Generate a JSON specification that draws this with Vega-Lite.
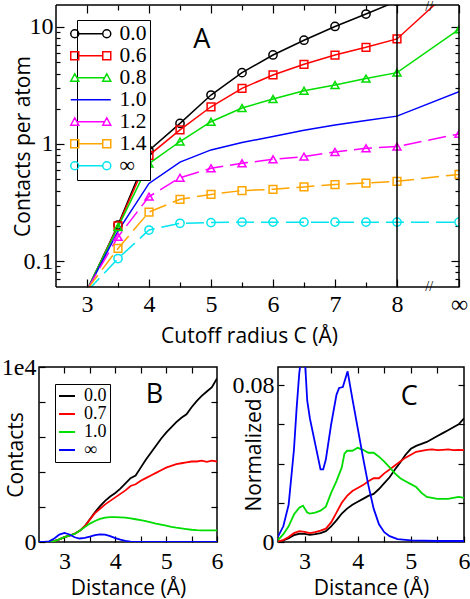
{
  "$schema": "https://vega.github.io/schema/vega-lite/v6.json",
  "background": "white",
  "padding": {"left": 0, "top": 0, "right": 2, "bottom": 0},
  "config": {
    "view": {"stroke": "black", "strokeWidth": 1.5},
    "axis": {"domain": false, "grid": false, "tickColor": "black", "tickWidth": 1.2, "labelFont": "Liberation Serif, serif", "labelFontSize": 24, "labelColor": "black", "titleFont": "Open Sans", "titleFontSize": 21, "titleFontWeight": "normal", "titleColor": "black", "labelFlush": false, "labelOverlap": false},
    "legend": {"labelColor": "black"}
  },
  "datasets": {
    "a": [
      {"s": "0.0", "x": 3, "y": 0.056}, {"s": "0.0", "x": 3.5, "y": 0.203}, {"s": "0.0", "x": 4, "y": 0.88}, {"s": "0.0", "x": 4.5, "y": 1.5}, {"s": "0.0", "x": 5, "y": 2.62}, {"s": "0.0", "x": 5.5, "y": 4.07}, {"s": "0.0", "x": 6, "y": 5.76}, {"s": "0.0", "x": 6.5, "y": 7.7}, {"s": "0.0", "x": 7, "y": 10.1}, {"s": "0.0", "x": 7.5, "y": 12.9}, {"s": "0.0", "x": 8, "y": 16.6}, {"s": "0.0", "x": 9, "y": 40},
      {"s": "0.6", "x": 3, "y": 0.056}, {"s": "0.6", "x": 3.5, "y": 0.2}, {"s": "0.6", "x": 4, "y": 0.8}, {"s": "0.6", "x": 4.5, "y": 1.32}, {"s": "0.6", "x": 5, "y": 2.08}, {"s": "0.6", "x": 5.5, "y": 2.99}, {"s": "0.6", "x": 6, "y": 3.89}, {"s": "0.6", "x": 6.5, "y": 4.8}, {"s": "0.6", "x": 7, "y": 5.75}, {"s": "0.6", "x": 7.5, "y": 6.7}, {"s": "0.6", "x": 8, "y": 7.9}, {"s": "0.6", "x": 9, "y": 24},
      {"s": "0.8", "x": 3, "y": 0.057}, {"s": "0.8", "x": 3.5, "y": 0.195}, {"s": "0.8", "x": 4, "y": 0.68}, {"s": "0.8", "x": 4.5, "y": 1.05}, {"s": "0.8", "x": 5, "y": 1.55}, {"s": "0.8", "x": 5.5, "y": 2.03}, {"s": "0.8", "x": 6, "y": 2.42}, {"s": "0.8", "x": 6.5, "y": 2.85}, {"s": "0.8", "x": 7, "y": 3.19}, {"s": "0.8", "x": 7.5, "y": 3.62}, {"s": "0.8", "x": 8, "y": 4.07}, {"s": "0.8", "x": 9, "y": 9.55},
      {"s": "1.0", "x": 3, "y": 0.056}, {"s": "1.0", "x": 3.5, "y": 0.18}, {"s": "1.0", "x": 4, "y": 0.46}, {"s": "1.0", "x": 4.5, "y": 0.7}, {"s": "1.0", "x": 5, "y": 0.89}, {"s": "1.0", "x": 5.5, "y": 1.03}, {"s": "1.0", "x": 6, "y": 1.16}, {"s": "1.0", "x": 6.5, "y": 1.31}, {"s": "1.0", "x": 7, "y": 1.45}, {"s": "1.0", "x": 7.5, "y": 1.59}, {"s": "1.0", "x": 8, "y": 1.73}, {"s": "1.0", "x": 9, "y": 2.8},
      {"s": "1.2", "x": 3, "y": 0.057}, {"s": "1.2", "x": 3.5, "y": 0.161}, {"s": "1.2", "x": 4, "y": 0.355}, {"s": "1.2", "x": 4.5, "y": 0.515}, {"s": "1.2", "x": 5, "y": 0.62}, {"s": "1.2", "x": 5.5, "y": 0.684}, {"s": "1.2", "x": 6, "y": 0.74}, {"s": "1.2", "x": 6.5, "y": 0.78}, {"s": "1.2", "x": 7, "y": 0.855}, {"s": "1.2", "x": 7.5, "y": 0.92}, {"s": "1.2", "x": 8, "y": 0.95}, {"s": "1.2", "x": 9, "y": 1.22},
      {"s": "1.4", "x": 3, "y": 0.057}, {"s": "1.4", "x": 3.5, "y": 0.128}, {"s": "1.4", "x": 4, "y": 0.262}, {"s": "1.4", "x": 4.5, "y": 0.337}, {"s": "1.4", "x": 5, "y": 0.371}, {"s": "1.4", "x": 5.5, "y": 0.4}, {"s": "1.4", "x": 6, "y": 0.41}, {"s": "1.4", "x": 6.5, "y": 0.43}, {"s": "1.4", "x": 7, "y": 0.45}, {"s": "1.4", "x": 7.5, "y": 0.464}, {"s": "1.4", "x": 8, "y": 0.48}, {"s": "1.4", "x": 9, "y": 0.55},
      {"s": "∞", "x": 3, "y": 0.055}, {"s": "∞", "x": 3.5, "y": 0.105}, {"s": "∞", "x": 4, "y": 0.184}, {"s": "∞", "x": 4.5, "y": 0.21}, {"s": "∞", "x": 5, "y": 0.213}, {"s": "∞", "x": 5.5, "y": 0.215}, {"s": "∞", "x": 6, "y": 0.215}, {"s": "∞", "x": 6.5, "y": 0.215}, {"s": "∞", "x": 7, "y": 0.215}, {"s": "∞", "x": 7.5, "y": 0.215}, {"s": "∞", "x": 8, "y": 0.215}, {"s": "∞", "x": 9, "y": 0.215}
    ],
    "b": [
      {"s": "0.0", "d": 2.5, "v": 0}, {"s": "0.0", "d": 2.6, "v": 0}, {"s": "0.0", "d": 2.7, "v": 10}, {"s": "0.0", "d": 2.8, "v": 50}, {"s": "0.0", "d": 2.9, "v": 150}, {"s": "0.0", "d": 3.0, "v": 280}, {"s": "0.0", "d": 3.1, "v": 360}, {"s": "0.0", "d": 3.2, "v": 470}, {"s": "0.0", "d": 3.3, "v": 640}, {"s": "0.0", "d": 3.4, "v": 900}, {"s": "0.0", "d": 3.5, "v": 1300}, {"s": "0.0", "d": 3.6, "v": 1700}, {"s": "0.0", "d": 3.7, "v": 2050}, {"s": "0.0", "d": 3.8, "v": 2350}, {"s": "0.0", "d": 3.9, "v": 2600}, {"s": "0.0", "d": 4.0, "v": 2800}, {"s": "0.0", "d": 4.1, "v": 3050}, {"s": "0.0", "d": 4.2, "v": 3350}, {"s": "0.0", "d": 4.3, "v": 3650}, {"s": "0.0", "d": 4.4, "v": 3800}, {"s": "0.0", "d": 4.5, "v": 4250}, {"s": "0.0", "d": 4.6, "v": 4700}, {"s": "0.0", "d": 4.7, "v": 5100}, {"s": "0.0", "d": 4.8, "v": 5500}, {"s": "0.0", "d": 4.9, "v": 5900}, {"s": "0.0", "d": 5.0, "v": 6250}, {"s": "0.0", "d": 5.1, "v": 6550}, {"s": "0.0", "d": 5.2, "v": 6850}, {"s": "0.0", "d": 5.3, "v": 7100}, {"s": "0.0", "d": 5.4, "v": 7300}, {"s": "0.0", "d": 5.5, "v": 7700}, {"s": "0.0", "d": 5.6, "v": 8050}, {"s": "0.0", "d": 5.7, "v": 8350}, {"s": "0.0", "d": 5.8, "v": 8600}, {"s": "0.0", "d": 5.9, "v": 8850}, {"s": "0.0", "d": 6.0, "v": 9350},
      {"s": "0.7", "d": 2.5, "v": 0}, {"s": "0.7", "d": 2.6, "v": 0}, {"s": "0.7", "d": 2.7, "v": 10}, {"s": "0.7", "d": 2.8, "v": 50}, {"s": "0.7", "d": 2.9, "v": 150}, {"s": "0.7", "d": 3.0, "v": 280}, {"s": "0.7", "d": 3.1, "v": 360}, {"s": "0.7", "d": 3.2, "v": 470}, {"s": "0.7", "d": 3.3, "v": 640}, {"s": "0.7", "d": 3.4, "v": 900}, {"s": "0.7", "d": 3.5, "v": 1280}, {"s": "0.7", "d": 3.6, "v": 1650}, {"s": "0.7", "d": 3.7, "v": 1900}, {"s": "0.7", "d": 3.8, "v": 2150}, {"s": "0.7", "d": 3.9, "v": 2350}, {"s": "0.7", "d": 4.0, "v": 2550}, {"s": "0.7", "d": 4.1, "v": 2750}, {"s": "0.7", "d": 4.2, "v": 2950}, {"s": "0.7", "d": 4.3, "v": 3200}, {"s": "0.7", "d": 4.4, "v": 3300}, {"s": "0.7", "d": 4.5, "v": 3500}, {"s": "0.7", "d": 4.6, "v": 3650}, {"s": "0.7", "d": 4.7, "v": 3800}, {"s": "0.7", "d": 4.8, "v": 3950}, {"s": "0.7", "d": 4.9, "v": 4100}, {"s": "0.7", "d": 5.0, "v": 4250}, {"s": "0.7", "d": 5.1, "v": 4350}, {"s": "0.7", "d": 5.2, "v": 4450}, {"s": "0.7", "d": 5.3, "v": 4500}, {"s": "0.7", "d": 5.4, "v": 4550}, {"s": "0.7", "d": 5.5, "v": 4600}, {"s": "0.7", "d": 5.6, "v": 4600}, {"s": "0.7", "d": 5.7, "v": 4650}, {"s": "0.7", "d": 5.8, "v": 4580}, {"s": "0.7", "d": 5.9, "v": 4650}, {"s": "0.7", "d": 6.0, "v": 4600},
      {"s": "1.0", "d": 2.5, "v": 0}, {"s": "1.0", "d": 2.6, "v": 0}, {"s": "1.0", "d": 2.7, "v": 10}, {"s": "1.0", "d": 2.8, "v": 50}, {"s": "1.0", "d": 2.9, "v": 150}, {"s": "1.0", "d": 3.0, "v": 280}, {"s": "1.0", "d": 3.1, "v": 360}, {"s": "1.0", "d": 3.2, "v": 460}, {"s": "1.0", "d": 3.3, "v": 640}, {"s": "1.0", "d": 3.4, "v": 850}, {"s": "1.0", "d": 3.5, "v": 1050}, {"s": "1.0", "d": 3.6, "v": 1200}, {"s": "1.0", "d": 3.7, "v": 1320}, {"s": "1.0", "d": 3.8, "v": 1390}, {"s": "1.0", "d": 3.9, "v": 1420}, {"s": "1.0", "d": 4.0, "v": 1420}, {"s": "1.0", "d": 4.1, "v": 1410}, {"s": "1.0", "d": 4.2, "v": 1390}, {"s": "1.0", "d": 4.3, "v": 1350}, {"s": "1.0", "d": 4.4, "v": 1300}, {"s": "1.0", "d": 4.5, "v": 1250}, {"s": "1.0", "d": 4.6, "v": 1190}, {"s": "1.0", "d": 4.7, "v": 1120}, {"s": "1.0", "d": 4.8, "v": 1050}, {"s": "1.0", "d": 4.9, "v": 990}, {"s": "1.0", "d": 5.0, "v": 930}, {"s": "1.0", "d": 5.1, "v": 870}, {"s": "1.0", "d": 5.2, "v": 820}, {"s": "1.0", "d": 5.3, "v": 780}, {"s": "1.0", "d": 5.4, "v": 740}, {"s": "1.0", "d": 5.5, "v": 700}, {"s": "1.0", "d": 5.6, "v": 680}, {"s": "1.0", "d": 5.7, "v": 670}, {"s": "1.0", "d": 5.8, "v": 660}, {"s": "1.0", "d": 5.9, "v": 660}, {"s": "1.0", "d": 6.0, "v": 670},
      {"s": "∞", "d": 2.5, "v": 0}, {"s": "∞", "d": 2.6, "v": 5}, {"s": "∞", "d": 2.7, "v": 40}, {"s": "∞", "d": 2.8, "v": 200}, {"s": "∞", "d": 2.9, "v": 420}, {"s": "∞", "d": 3.0, "v": 520}, {"s": "∞", "d": 3.1, "v": 430}, {"s": "∞", "d": 3.2, "v": 270}, {"s": "∞", "d": 3.3, "v": 200}, {"s": "∞", "d": 3.4, "v": 240}, {"s": "∞", "d": 3.5, "v": 310}, {"s": "∞", "d": 3.6, "v": 390}, {"s": "∞", "d": 3.7, "v": 430}, {"s": "∞", "d": 3.8, "v": 420}, {"s": "∞", "d": 3.9, "v": 330}, {"s": "∞", "d": 4.0, "v": 220}, {"s": "∞", "d": 4.1, "v": 130}, {"s": "∞", "d": 4.2, "v": 60}, {"s": "∞", "d": 4.3, "v": 20}, {"s": "∞", "d": 4.4, "v": 5}, {"s": "∞", "d": 4.5, "v": 0}, {"s": "∞", "d": 5.0, "v": 0}, {"s": "∞", "d": 6.0, "v": 0}
    ],
    "c": [
      {"s": "0.0", "d": 2.5, "v": 0.0002}, {"s": "0.0", "d": 2.6, "v": 0.0008}, {"s": "0.0", "d": 2.7, "v": 0.002}, {"s": "0.0", "d": 2.8, "v": 0.0035}, {"s": "0.0", "d": 2.9, "v": 0.0042}, {"s": "0.0", "d": 3.0, "v": 0.0041}, {"s": "0.0", "d": 3.1, "v": 0.0036}, {"s": "0.0", "d": 3.2, "v": 0.004}, {"s": "0.0", "d": 3.3, "v": 0.0045}, {"s": "0.0", "d": 3.4, "v": 0.0055}, {"s": "0.0", "d": 3.5, "v": 0.008}, {"s": "0.0", "d": 3.6, "v": 0.011}, {"s": "0.0", "d": 3.7, "v": 0.0145}, {"s": "0.0", "d": 3.8, "v": 0.017}, {"s": "0.0", "d": 3.9, "v": 0.019}, {"s": "0.0", "d": 4.0, "v": 0.0205}, {"s": "0.0", "d": 4.1, "v": 0.022}, {"s": "0.0", "d": 4.2, "v": 0.0235}, {"s": "0.0", "d": 4.3, "v": 0.0245}, {"s": "0.0", "d": 4.4, "v": 0.027}, {"s": "0.0", "d": 4.5, "v": 0.03}, {"s": "0.0", "d": 4.6, "v": 0.033}, {"s": "0.0", "d": 4.7, "v": 0.037}, {"s": "0.0", "d": 4.8, "v": 0.0405}, {"s": "0.0", "d": 4.9, "v": 0.0445}, {"s": "0.0", "d": 5.0, "v": 0.0475}, {"s": "0.0", "d": 5.1, "v": 0.049}, {"s": "0.0", "d": 5.2, "v": 0.05}, {"s": "0.0", "d": 5.3, "v": 0.051}, {"s": "0.0", "d": 5.4, "v": 0.0525}, {"s": "0.0", "d": 5.5, "v": 0.054}, {"s": "0.0", "d": 5.6, "v": 0.0555}, {"s": "0.0", "d": 5.7, "v": 0.057}, {"s": "0.0", "d": 5.8, "v": 0.0585}, {"s": "0.0", "d": 5.9, "v": 0.06}, {"s": "0.0", "d": 6.0, "v": 0.063},
      {"s": "0.7", "d": 2.5, "v": 0.0003}, {"s": "0.7", "d": 2.6, "v": 0.001}, {"s": "0.7", "d": 2.7, "v": 0.0025}, {"s": "0.7", "d": 2.8, "v": 0.0045}, {"s": "0.7", "d": 2.9, "v": 0.0055}, {"s": "0.7", "d": 3.0, "v": 0.0052}, {"s": "0.7", "d": 3.1, "v": 0.0045}, {"s": "0.7", "d": 3.2, "v": 0.005}, {"s": "0.7", "d": 3.3, "v": 0.0058}, {"s": "0.7", "d": 3.4, "v": 0.0068}, {"s": "0.7", "d": 3.5, "v": 0.01}, {"s": "0.7", "d": 3.6, "v": 0.015}, {"s": "0.7", "d": 3.7, "v": 0.02}, {"s": "0.7", "d": 3.8, "v": 0.0235}, {"s": "0.7", "d": 3.9, "v": 0.026}, {"s": "0.7", "d": 4.0, "v": 0.0275}, {"s": "0.7", "d": 4.1, "v": 0.029}, {"s": "0.7", "d": 4.2, "v": 0.031}, {"s": "0.7", "d": 4.3, "v": 0.0325}, {"s": "0.7", "d": 4.4, "v": 0.0325}, {"s": "0.7", "d": 4.5, "v": 0.035}, {"s": "0.7", "d": 4.6, "v": 0.037}, {"s": "0.7", "d": 4.7, "v": 0.039}, {"s": "0.7", "d": 4.8, "v": 0.041}, {"s": "0.7", "d": 4.9, "v": 0.043}, {"s": "0.7", "d": 5.0, "v": 0.0445}, {"s": "0.7", "d": 5.1, "v": 0.046}, {"s": "0.7", "d": 5.2, "v": 0.0465}, {"s": "0.7", "d": 5.3, "v": 0.047}, {"s": "0.7", "d": 5.4, "v": 0.0472}, {"s": "0.7", "d": 5.5, "v": 0.0468}, {"s": "0.7", "d": 5.6, "v": 0.047}, {"s": "0.7", "d": 5.7, "v": 0.0472}, {"s": "0.7", "d": 5.8, "v": 0.0468}, {"s": "0.7", "d": 5.9, "v": 0.047}, {"s": "0.7", "d": 6.0, "v": 0.0468},
      {"s": "1.0", "d": 2.5, "v": 0.001}, {"s": "1.0", "d": 2.6, "v": 0.004}, {"s": "1.0", "d": 2.7, "v": 0.008}, {"s": "1.0", "d": 2.8, "v": 0.014}, {"s": "1.0", "d": 2.9, "v": 0.0175}, {"s": "1.0", "d": 2.97, "v": 0.0185}, {"s": "1.0", "d": 3.05, "v": 0.015}, {"s": "1.0", "d": 3.1, "v": 0.0145}, {"s": "1.0", "d": 3.2, "v": 0.015}, {"s": "1.0", "d": 3.3, "v": 0.016}, {"s": "1.0", "d": 3.4, "v": 0.018}, {"s": "1.0", "d": 3.5, "v": 0.025}, {"s": "1.0", "d": 3.6, "v": 0.031}, {"s": "1.0", "d": 3.7, "v": 0.038}, {"s": "1.0", "d": 3.75, "v": 0.045}, {"s": "1.0", "d": 3.8, "v": 0.0465}, {"s": "1.0", "d": 3.9, "v": 0.0465}, {"s": "1.0", "d": 4.0, "v": 0.048}, {"s": "1.0", "d": 4.1, "v": 0.047}, {"s": "1.0", "d": 4.2, "v": 0.0455}, {"s": "1.0", "d": 4.3, "v": 0.0455}, {"s": "1.0", "d": 4.4, "v": 0.0435}, {"s": "1.0", "d": 4.5, "v": 0.041}, {"s": "1.0", "d": 4.6, "v": 0.038}, {"s": "1.0", "d": 4.7, "v": 0.035}, {"s": "1.0", "d": 4.8, "v": 0.0325}, {"s": "1.0", "d": 4.9, "v": 0.031}, {"s": "1.0", "d": 5.0, "v": 0.0295}, {"s": "1.0", "d": 5.1, "v": 0.028}, {"s": "1.0", "d": 5.2, "v": 0.025}, {"s": "1.0", "d": 5.3, "v": 0.023}, {"s": "1.0", "d": 5.4, "v": 0.0225}, {"s": "1.0", "d": 5.5, "v": 0.022}, {"s": "1.0", "d": 5.6, "v": 0.022}, {"s": "1.0", "d": 5.7, "v": 0.022}, {"s": "1.0", "d": 5.8, "v": 0.0225}, {"s": "1.0", "d": 5.9, "v": 0.023}, {"s": "1.0", "d": 6.0, "v": 0.0225},
      {"s": "∞", "d": 2.5, "v": 0.0027}, {"s": "∞", "d": 2.6, "v": 0.008}, {"s": "∞", "d": 2.7, "v": 0.019}, {"s": "∞", "d": 2.8, "v": 0.047}, {"s": "∞", "d": 2.85, "v": 0.068}, {"s": "∞", "d": 2.9, "v": 0.086}, {"s": "∞", "d": 2.95, "v": 0.097}, {"s": "∞", "d": 3.0, "v": 0.096}, {"s": "∞", "d": 3.05, "v": 0.072}, {"s": "∞", "d": 3.1, "v": 0.063}, {"s": "∞", "d": 3.2, "v": 0.05}, {"s": "∞", "d": 3.3, "v": 0.037}, {"s": "∞", "d": 3.35, "v": 0.037}, {"s": "∞", "d": 3.4, "v": 0.042}, {"s": "∞", "d": 3.5, "v": 0.06}, {"s": "∞", "d": 3.6, "v": 0.075}, {"s": "∞", "d": 3.65, "v": 0.0785}, {"s": "∞", "d": 3.72, "v": 0.079}, {"s": "∞", "d": 3.81, "v": 0.087}, {"s": "∞", "d": 3.9, "v": 0.073}, {"s": "∞", "d": 4.0, "v": 0.058}, {"s": "∞", "d": 4.1, "v": 0.043}, {"s": "∞", "d": 4.2, "v": 0.029}, {"s": "∞", "d": 4.3, "v": 0.017}, {"s": "∞", "d": 4.4, "v": 0.009}, {"s": "∞", "d": 4.5, "v": 0.005}, {"s": "∞", "d": 4.6, "v": 0.003}, {"s": "∞", "d": 4.75, "v": 0.0015}, {"s": "∞", "d": 5.0, "v": 0.0008}, {"s": "∞", "d": 5.5, "v": 0.0005}, {"s": "∞", "d": 6.0, "v": 0.0005}
    ]
  },
  "columns": 1,
  "align": "none",
  "spacing": 8,
  "resolve": {"scale": {"color": "independent"}, "legend": {"color": "independent"}},
  "concat": [
    {
      "width": 420,
      "height": 282,
      "view": {"stroke": null},
      "resolve": {"axis": {"x": "independent", "y": "independent"}},
      "layer": [
        {
          "data": {"name": "a"},
          "transform": [{"filter": "indexof(['0.0','0.6','0.8','1.0'], datum.s) >= 0"}],
          "mark": {"type": "line", "clip": true, "strokeWidth": 1.5},
          "encoding": {
            "x": {"field": "x", "type": "quantitative", "scale": {"domain": [2.2258, 9], "nice": false, "zero": false},
              "axis": {"orient": "bottom", "values": [3, 3.5, 4, 4.5, 5, 5.5, 6, 6.5, 7, 7.5, 8, 9], "labelExpr": "datum.value == 9 ? '∞' : (datum.value % 1 == 0 ? format(datum.value, 'd') : '')", "tickSize": {"condition": {"test": "datum.value % 1 == 0", "value": -8}, "value": -5}, "labelPadding": 13, "title": "Cutoff radius C (Å)", "titlePadding": 6}},
            "y": {"field": "y", "type": "quantitative", "scale": {"type": "log", "domain": [0.06, 15.4], "nice": false},
              "axis": {"orient": "left", "offset": -17, "values": [0.07, 0.08, 0.09, 0.1, 0.2, 0.3, 0.4, 0.5, 0.6, 0.7, 0.8, 0.9, 1, 2, 3, 4, 5, 6, 7, 8, 9, 10], "labelExpr": "datum.value == 0.1 ? '0.1' : datum.value == 1 ? '1' : datum.value == 10 ? '10' : ''", "tickSize": {"condition": {"test": "datum.value == 0.1 || datum.value == 1 || datum.value == 10", "value": -8}, "value": -4}, "labelPadding": 11, "title": "Contacts per atom", "titlePadding": -10}},
            "color": {"field": "s", "type": "nominal",
              "scale": {"domain": ["0.0", "0.6", "0.8", "1.0", "1.2", "1.4", "∞"], "range": ["black", "#ff0000", "#00dd00", "#0000ff", "#ff00ff", "#ffa500", "#00e5ee"]},
              "legend": {"title": null, "orient": "none", "legendX": 38, "legendY": 15, "strokeColor": "black", "fillColor": "white", "padding": 3, "labelFont": "Liberation Serif, serif", "labelFontSize": 21.5, "labelColor": "black", "symbolType": "stroke", "symbolSize": 100, "symbolStrokeWidth": 1.5, "labelOffset": 18, "rowPadding": -8,
                "encode": {"symbols": {"update": {"shape": {"signal": "datum.value == '0.0' || datum.value == '∞' ? 'M-2.4,0H2.4M-2.4,0A0.8,0.8,0,1,1,-4,0A0.8,0.8,0,1,1,-2.4,0M4,0A0.8,0.8,0,1,1,2.4,0A0.8,0.8,0,1,1,4,0' : (datum.value == '0.6' || datum.value == '1.4' ? 'M-2.4,0H2.4M-4,-0.8H-2.4V0.8H-4ZM2.4,-0.8H4V0.8H2.4Z' : (datum.value == '1.0' ? 'M-4,0H4' : 'M-2.78,0H2.78M-4,0.7L-3.2,-0.8L-2.4,0.7ZM2.4,0.7L3.2,-0.8L4,0.7Z'))"}, "fill": {"value": "transparent"}}}}}}
          }
        },
        {
          "data": {"name": "a"},
          "transform": [{"filter": "indexof(['1.2','1.4','∞'], datum.s) >= 0"}],
          "mark": {"type": "line", "clip": true, "strokeWidth": 1.5, "strokeDash": [18, 7]},
          "encoding": {
            "x": {"field": "x", "type": "quantitative", "axis": {"orient": "top", "labels": false, "title": null, "values": [3, 3.5, 4, 4.5, 5, 5.5, 6, 6.5, 7, 7.5, 8, 9], "tickSize": {"condition": {"test": "datum.value % 1 == 0", "value": -8}, "value": -5}}},
            "y": {"field": "y", "type": "quantitative", "axis": {"orient": "right", "labels": false, "title": null, "values": [0.07, 0.08, 0.09, 0.1, 0.2, 0.3, 0.4, 0.5, 0.6, 0.7, 0.8, 0.9, 1, 2, 3, 4, 5, 6, 7, 8, 9, 10], "tickSize": {"condition": {"test": "datum.value == 0.1 || datum.value == 1 || datum.value == 10", "value": -8}, "value": -4}}},
            "color": {"field": "s", "type": "nominal", "legend": null}
          }
        },
        {
          "data": {"name": "a"},
          "transform": [{"filter": "(datum.s == '0.0' || datum.s == '∞') && datum.x > 3"}],
          "mark": {"type": "point", "shape": "circle", "filled": false, "size": 68, "strokeWidth": 1.5, "clip": true, "opacity": 1},
          "encoding": {
            "x": {"field": "x", "type": "quantitative", "axis": null},
            "y": {"field": "y", "type": "quantitative", "axis": null},
            "color": {"field": "s", "type": "nominal", "legend": null}
          }
        },
        {
          "data": {"name": "a"},
          "transform": [{"filter": "(datum.s == '0.6' || datum.s == '1.4') && datum.x > 3"}],
          "mark": {"type": "point", "shape": "square", "filled": false, "size": 60, "strokeWidth": 1.5, "clip": true, "opacity": 1},
          "encoding": {
            "x": {"field": "x", "type": "quantitative", "axis": null},
            "y": {"field": "y", "type": "quantitative", "axis": null},
            "color": {"field": "s", "type": "nominal", "legend": null}
          }
        },
        {
          "data": {"name": "a"},
          "transform": [{"filter": "(datum.s == '0.8' || datum.s == '1.2') && datum.x > 3"}],
          "mark": {"type": "point", "shape": "triangle-up", "filled": false, "size": 64, "strokeWidth": 1.5, "clip": true, "opacity": 1},
          "encoding": {
            "x": {"field": "x", "type": "quantitative", "axis": null},
            "y": {"field": "y", "type": "quantitative", "axis": null},
            "color": {"field": "s", "type": "nominal", "legend": null}
          }
        },
        {
          "data": {"values": [{}]},
          "mark": {"type": "rule", "color": "black", "strokeWidth": 1.5},
          "encoding": {"x": {"datum": 8, "axis": null}}
        },
        {
          "data": {"values": [{}]},
          "mark": {"type": "rule", "color": "black", "strokeWidth": 1.5},
          "encoding": {"x": {"datum": 2.5, "axis": null}}
        },
        {
          "data": {"values": [{}]},
          "mark": {"type": "rule", "color": "black", "strokeWidth": 1.5},
          "encoding": {"x": {"datum": 9, "axis": null}}
        },
        {
          "data": {"values": [{}]},
          "mark": {"type": "rule", "color": "black", "strokeWidth": 1.5},
          "encoding": {"x": {"datum": 2.5, "axis": null}, "x2": {"datum": 9}, "y": {"datum": 15.4, "axis": null}}
        },
        {
          "data": {"values": [{}]},
          "mark": {"type": "rule", "color": "black", "strokeWidth": 1.5},
          "encoding": {"x": {"datum": 2.5, "axis": null}, "x2": {"datum": 9}, "y": {"datum": 0.06, "axis": null}}
        },
        {
          "data": {"values": [{}]},
          "mark": {"type": "text", "text": "A", "font": "Open Sans", "fontSize": 27, "color": "black"},
          "encoding": {"x": {"datum": 4.85, "axis": null}, "y": {"datum": 7.7, "axis": null}}
        },
        {
          "data": {"values": [{}]},
          "mark": {"type": "text", "text": "//", "font": "Liberation Serif, serif", "fontSize": 14, "dy": 2, "color": "black"},
          "encoding": {"x": {"datum": 8.52, "axis": null}, "y": {"datum": 15.4, "axis": null}}
        },
        {
          "data": {"values": [{}]},
          "mark": {"type": "text", "text": "//", "font": "Liberation Serif, serif", "fontSize": 14, "color": "black"},
          "encoding": {"x": {"datum": 8.52, "axis": null}, "y": {"datum": 0.06, "axis": null}}
        }
      ]
    },
    {
      "spacing": 7,
      "resolve": {"scale": {"color": "independent"}, "legend": {"color": "independent"}},
      "hconcat": [
        {
          "width": 178,
          "height": 175,
          "resolve": {"axis": {"x": "independent", "y": "independent"}},
          "layer": [
            {
              "data": {"name": "b"},
              "mark": {"type": "line", "clip": true, "strokeWidth": 1.8},
              "encoding": {
                "x": {"field": "d", "type": "quantitative", "scale": {"domain": [2.5, 6], "nice": false, "zero": false},
                  "axis": {"orient": "bottom", "values": [3, 3.5, 4, 4.5, 5, 5.5, 6], "labelExpr": "datum.value % 1 == 0 ? format(datum.value, 'd') : ''", "tickSize": -6, "labelPadding": 13, "title": "Distance (Å)", "titlePadding": 4}},
                "y": {"field": "v", "type": "quantitative", "scale": {"domain": [0, 10000], "nice": false},
                  "axis": {"orient": "left", "values": [0, 2000, 4000, 6000, 8000, 10000], "labelExpr": "datum.value == 0 ? '0' : datum.value == 10000 ? '1e4' : ''", "tickSize": -6, "labelPadding": 9, "title": "Contacts", "titlePadding": -25}},
                "color": {"field": "s", "type": "nominal",
                  "scale": {"domain": ["0.0", "0.7", "1.0", "∞"], "range": ["black", "#ff0000", "#00dd00", "#0000ff"]},
                  "legend": {"title": null, "orient": "none", "legendX": 16, "legendY": 17, "strokeColor": "black", "fillColor": "white", "padding": 3, "labelFont": "Liberation Serif, serif", "labelFontSize": 18, "labelColor": "black", "symbolType": "stroke", "symbolSize": 256, "symbolStrokeWidth": 2, "labelOffset": 8, "rowPadding": -6}}
              }
            },
            {
              "data": {"values": [{}]},
              "mark": {"type": "text", "text": "B", "font": "Open Sans", "fontSize": 27, "color": "black"},
              "encoding": {
                "x": {"datum": 4.77, "axis": {"orient": "top", "labels": false, "title": null, "values": [3, 3.5, 4, 4.5, 5, 5.5], "tickSize": -6}},
                "y": {"datum": 8400, "axis": {"orient": "right", "labels": false, "title": null, "values": [2000, 4000, 6000, 8000], "tickSize": -6}}
              }
            }
          ]
        },
        {
          "width": 186,
          "height": 175,
          "resolve": {"axis": {"x": "independent", "y": "independent"}},
          "layer": [
            {
              "data": {"name": "c"},
              "mark": {"type": "line", "clip": true, "strokeWidth": 1.8},
              "encoding": {
                "x": {"field": "d", "type": "quantitative", "scale": {"domain": [2.5, 6], "nice": false, "zero": false},
                  "axis": {"orient": "bottom", "values": [3, 3.5, 4, 4.5, 5, 5.5, 6], "labelExpr": "datum.value % 1 == 0 ? format(datum.value, 'd') : ''", "tickSize": -6, "labelPadding": 13, "title": "Distance (Å)", "titlePadding": 4}},
                "y": {"field": "v", "type": "quantitative", "scale": {"domain": [0, 0.0892], "nice": false},
                  "axis": {"orient": "left", "values": [0, 0.02, 0.04, 0.06, 0.08], "labelExpr": "datum.value == 0 ? '0' : datum.value == 0.08 ? '0.08' : ''", "tickSize": -6, "labelPadding": 10, "title": "Normalized", "titlePadding": -32}},
                "color": {"field": "s", "type": "nominal",
                  "scale": {"domain": ["0.0", "0.7", "1.0", "∞"], "range": ["black", "#ff0000", "#00dd00", "#0000ff"]},
                  "legend": null}
              }
            },
            {
              "data": {"values": [{}]},
              "mark": {"type": "text", "text": "C", "font": "Open Sans", "fontSize": 27, "color": "black"},
              "encoding": {
                "x": {"datum": 4.97, "axis": {"orient": "top", "labels": false, "title": null, "values": [3, 3.5, 4, 4.5, 5, 5.5], "tickSize": -6}},
                "y": {"datum": 0.074, "axis": {"orient": "right", "labels": false, "title": null, "values": [0.02, 0.04, 0.06, 0.08], "tickSize": -6}}
              }
            }
          ]
        }
      ]
    }
  ]
}
